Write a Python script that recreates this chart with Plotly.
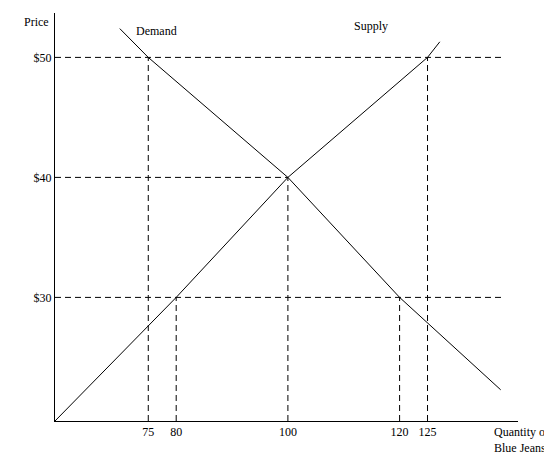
import plotly.graph_objects as go

# values
supply_q = [58.3, 80, 100, 125, 127.2]
supply_p = [19.7, 30, 40, 50, 51.3]
demand_q = [69.9, 75, 100, 120, 138.1]
demand_p = [52.4, 50, 40, 30, 22.3]
price_ticks = [30, 40, 50]
qty_ticks = [75, 80, 100, 120, 125]

x0, x1 = 58.3, 141.2
y0, y1 = 19.7, 53.7

fig = go.Figure()
fig.add_trace(go.Scatter(x=supply_q, y=supply_p, mode='lines', line=dict(color='black', width=1)))
fig.add_trace(go.Scatter(x=demand_q, y=demand_p, mode='lines', line=dict(color='black', width=1)))

dash = dict(color='black', width=1, dash='6px,4px')
# horizontal guides
for p, xe in [(50, 138.4), (40, 100), (30, 138.4)]:
    fig.add_shape(type='line', x0=x0, x1=xe, y0=p, y1=p, line=dash)
# vertical guides
for q, p in [(75, 50), (80, 30), (100, 40), (120, 30), (125, 50)]:
    fig.add_shape(type='line', x0=q, x1=q, y0=y0, y1=p, line=dash)

font = dict(family='Liberation Serif', size=12, color='black')
fig.add_annotation(text='Price', x=0, y=1, xref='paper', yref='paper', xanchor='right', yanchor='top',
                   xshift=-4, showarrow=False, font=font)
fig.add_annotation(text='Quantity of<br>Blue Jeans', x=1, y=0, xref='paper', yref='paper',
                   xanchor='center', yanchor='top', xshift=3, yshift=-2, showarrow=False, font=font, align='left')
fig.add_annotation(text='Demand', x=76.5, y=52.2, showarrow=False, font=font)
fig.add_annotation(text='Supply', x=114.8, y=52.6, showarrow=False, font=font)

fig.update_layout(
    width=552, height=459, showlegend=False,
    margin=dict(l=47, r=42, t=5, b=46, autoexpand=False),
    plot_bgcolor='white', paper_bgcolor='white', font=font,
)
fig.update_xaxes(range=[x0, x1], tickvals=qty_ticks, showgrid=False, zeroline=False,
                 showline=True, linecolor='black', ticks='', anchor='y', automargin=False)
fig.update_yaxes(range=[y0, y1], tickvals=price_ticks, ticktext=['$%d' % p for p in price_ticks],
                 showgrid=False, zeroline=False, showline=True, linecolor='black', ticks='', automargin=False)
fig.write_html("out.html")
